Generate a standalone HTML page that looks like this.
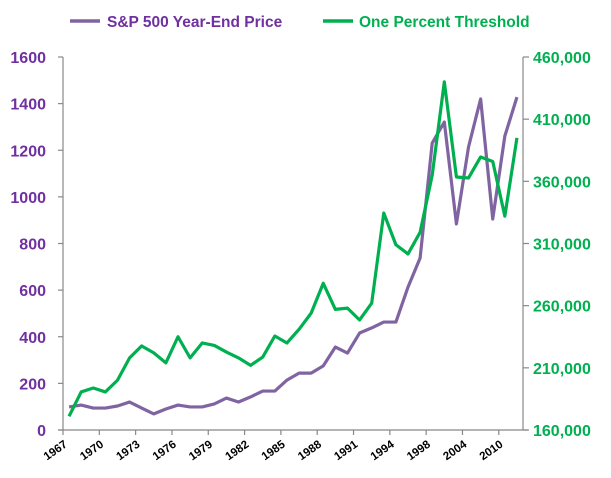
<!DOCTYPE html>
<html><head><meta charset="utf-8"><style>
html,body{margin:0;padding:0;background:#fff;}
svg{display:block;font-family:"Liberation Sans",Arial,sans-serif;}
</style></head><body>
<svg id="chart" width="611" height="478">
<g id="legend">
 <g><line x1="70" y1="21" x2="100" y2="21" stroke="#8064A2" stroke-width="3.5"/><text x="107" y="27" font-size="15.5" font-weight="bold" fill="#7030A0">S&amp;P 500 Year-End Price</text></g>
 <g><line x1="323" y1="21" x2="353" y2="21" stroke="#00B050" stroke-width="3.5"/><text x="359" y="27" font-size="15.5" font-weight="bold" fill="#00B050">One Percent Threshold</text></g>
</g>
<g id="axes"></g>
<g id="series"></g>
</svg>
<script>
const categories=["1967","1968","1969","1970","1971","1972","1973","1974","1975","1976","1977","1978","1979","1980","1981","1982","1983","1984","1985","1986","1987","1988","1989","1990","1991","1992","1993","1994","1995","1996","1998","1999","2002","2004","2007","2008","2010","2011"];
const labelEvery=3;
const spPrice=[99,107,94,94,103,120,94,69,90,107,99,99,112,137,120,142,167,167,214,244,244,275,356,330,416,438,463,463,613,738,1231,1321,884,1214,1420,905,1261,1428];
const threshold=[171000,190600,193800,190600,200000,218000,227600,222000,214000,235000,218000,230000,228000,222700,218000,212000,218700,235600,230000,241000,254000,278000,257000,258000,248500,262000,334500,309000,301600,319000,365000,440000,363500,362700,379600,376000,332000,395000];
const leftTicks=[0,200,400,600,800,1000,1200,1400,1600];
const rightTicks=[160000,210000,260000,310000,360000,410000,460000];

const NS="http://www.w3.org/2000/svg";
const X0=63,X1=523,Y0=430,Y1=57;
const step=(X1-X0)/categories.length;
const xPos=i=>X0+step*(i+0.5);
const yL=v=>Y0-(v-0)/(1600-0)*(Y0-Y1);
const yR=v=>Y0-(v-160000)/(460000-160000)*(Y0-Y1);
function mk(tag,attrs,parent){const e=document.createElementNS(NS,tag);for(const k in attrs)e.setAttribute(k,attrs[k]);parent.appendChild(e);return e;}
const axes=document.getElementById('axes');
const ser=document.getElementById('series');
const fmt=v=>v.toString().replace(/\B(?=(\d{3})+(?!\d))/g,",");

let a=mk('line',{x1:X0,y1:Y1,x2:X0,y2:Y0,stroke:'#888','stroke-width':1.2},axes);


a=mk('line',{x1:X1,y1:Y1,x2:X1,y2:Y0,stroke:'#888','stroke-width':1.2},axes);


a=mk('line',{x1:X0-5,y1:Y0,x2:X1+5,y2:Y0,stroke:'#888','stroke-width':1.2},axes);



leftTicks.forEach(v=>{const y=yL(v);
 mk('line',{x1:X0-5,y1:y,x2:X0,y2:y,stroke:'#888','stroke-width':1.2},axes);
 const t=mk('text',{x:46,y:y+6,'text-anchor':'end','font-size':16,'font-weight':'bold',fill:'#7030A0'},axes);
 t.textContent=v;
 
 
});
rightTicks.forEach(v=>{const y=yR(v);
 mk('line',{x1:X1,y1:y,x2:X1+6,y2:y,stroke:'#888','stroke-width':1.2},axes);
 const t=mk('text',{x:533,y:y+6,'font-size':16,'font-weight':'bold',fill:'#00B050'},axes);
 t.textContent=fmt(v);
 
 
});
categories.forEach((c,i)=>{
 if(i%labelEvery!==0)return;
 const x=X0+step*i;
 mk('line',{x1:x,y1:Y0,x2:x,y2:Y0+5,stroke:'#888','stroke-width':1.2},axes);
 const t=mk('text',{x:x+5,y:Y0+16,'text-anchor':'end','font-size':11.5,'font-weight':'bold',fill:'#000',transform:`rotate(-35 ${x+5} ${Y0+16})`},axes);
 t.textContent=c;
 
 
});
const l1=mk('polyline',{points:spPrice.map((v,i)=>xPos(i)+','+yL(v)).join(' '),fill:'none',stroke:'#8064A2','stroke-width':3.2,'stroke-linejoin':'round'},ser);


const l2=mk('polyline',{points:threshold.map((v,i)=>xPos(i)+','+yR(v)).join(' '),fill:'none',stroke:'#00B050','stroke-width':3.2,'stroke-linejoin':'round'},ser);


</script>
</body></html>
